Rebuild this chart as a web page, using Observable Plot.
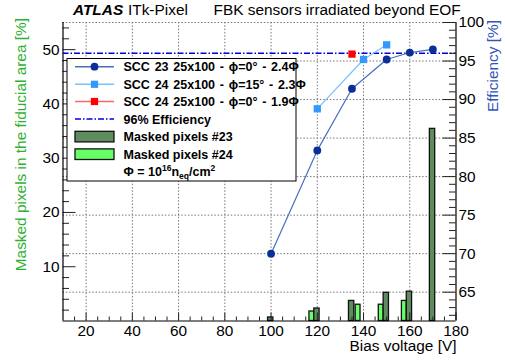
<!DOCTYPE html>
<html><head><meta charset="utf-8">
<script src="https://cdn.jsdelivr.net/npm/d3@7"></script>
<script src="https://cdn.jsdelivr.net/npm/@observablehq/plot@0.6"></script>
<style>
body{margin:0;background:#fff;}
#wrap{position:relative;width:505px;height:361px;font-family:"Liberation Sans",Arial,Helvetica,sans-serif;}
#wrap svg{position:absolute;left:0;top:0;}
</style></head><body><div id="wrap"></div>
<script>
// ---- data ----
const scc23Voltage = [100, 120, 135, 150, 160, 170];
const scc23Eff = [70.0, 83.4, 91.4, 95.2, 96.1, 96.5];
const scc24aVoltage = [120, 140, 150];
const scc24aEff = [88.8, 95.2, 97.1];
const scc24bVoltage = [135];
const scc24bEff = [95.9];
const effReference = [96];
const masked23Voltage = [100, 120, 135, 150, 160, 170];
const masked23 = [0.65, 2.3, 3.7, 5.2, 5.4, 35.4];
const masked24Voltage = [120, 140, 150, 160];
const masked24 = [1.75, 3.0, 3.0, 3.7];
const xTicks = [20, 40, 60, 80, 100, 120, 140, 160, 180];
const leftTicks = [10, 20, 30, 40, 50];
const rightTicks = [65, 70, 75, 80, 85, 90, 95, 100];
const legendLabels = ["SCC 23 25x100 - \u03D5=0\u00B0 - 2.4\u03A6", "SCC 24 25x100 - \u03D5=15\u00B0 - 2.3\u03A6", "SCC 24 25x100 - \u03D5=0\u00B0 - 1.9\u03A6", "96% Efficiency", "Masked pixels #23", "Masked pixels #24"];

// ---- styles ----
const C23 = "#0a2f96", C23line = "#4a6fc0";
const C24a = "#3399ff", C24aline = "#7cc0ff";
const C24b = "#ff0000", C24bline = "#ff6666";
const CRef = "#0000dd";
const G23 = "#5e8c5e", G24 = "#66ff66";
const FONT = '"Liberation Sans", Arial, Helvetica, sans-serif';
const FS = 15.4;
const W = 505, H = 361;
const M = {marginLeft: 62.5, marginRight: 49.5, marginTop: 22, marginBottom: 40.5};
const xDom = [10, 180], leftDom = [0, 55], rightDom = [61.26, 100];
const pxPerV = (W - M.marginLeft - M.marginRight) / (xDom[1] - xDom[0]);
const plotH = H - M.marginTop - M.marginBottom;
const pxPerL = plotH / (leftDom[1] - leftDom[0]);
const baseStyle = {fontSize: FS + "px", fontFamily: FONT, color: "black", background: "transparent", overflow: "visible"};
const grid = {stroke: "#777", strokeDasharray: "1.5,1.8", strokeWidth: 1};

const zip = (a, b) => a.map((v, i) => ({v, y: b[i]}));
const range = (a, b, s) => d3.range(a, b + 1e-9, s);

const wrap = document.getElementById("wrap");

// layer 1: grid (efficiency scale)
wrap.appendChild(Plot.plot({
  width: W, height: H, ...M, style: {...baseStyle, background: "white"},
  x: {domain: xDom, axis: null}, y: {domain: rightDom, axis: null},
  marks: [
    Plot.ruleX(xTicks.filter(d => d < 180), grid),
    Plot.ruleY(rightTicks, grid)
  ]
}));

// layer 2: masked pixels bars, left axis, x axis
const minorLeft = range(2, 54, 2).filter(d => d % 10 !== 0);
const minorX = range(15, 175, 5).filter(d => d % 20 !== 0);
wrap.appendChild(Plot.plot({
  width: W, height: H, ...M, style: baseStyle,
  x: {domain: xDom}, y: {domain: leftDom},
  marks: [
    Plot.rect(zip(masked24Voltage, masked24), {x1: d => d.v - 3.4, x2: d => d.v - 1.3, y1: 0, y2: "y", fill: G24, stroke: "#111", strokeWidth: 1.3}),
    Plot.rect(zip(masked23Voltage, masked23), {x1: d => d.v - 1.3, x2: d => d.v + 1.0, y1: 0, y2: "y", fill: G23, stroke: "#111", strokeWidth: 1.3}),
    Plot.ruleY(leftTicks, {x1: xDom[0], x2: xDom[0] + 13 / pxPerV, stroke: "#222"}),
    Plot.ruleY(minorLeft, {x1: xDom[0], x2: xDom[0] + 6.5 / pxPerV, stroke: "#222"}),
    Plot.ruleX(xTicks, {y1: 0, y2: 8 / pxPerL, stroke: "#222"}),
    Plot.ruleX(minorX, {y1: 0, y2: 4 / pxPerL, stroke: "#222"}),
    Plot.ruleX([xDom[0]], {stroke: "black", strokeWidth: 1.2}),
    Plot.ruleY([0], {stroke: "black", strokeWidth: 1.2}),
    Plot.axisY(leftTicks, {anchor: "left", tickSize: 0, tickPadding: 3.5, label: null, fill: "black"}),
    Plot.axisX(xTicks, {anchor: "bottom", tickSize: 0, tickPadding: 4.5, label: null, fill: "black"})
  ]
}));

// layer 3: efficiency curves, right axis
const minorRight = range(62, 99, 1).filter(d => d % 5 !== 0);
wrap.appendChild(Plot.plot({
  width: W, height: H, ...M, style: baseStyle,
  x: {domain: xDom, axis: null}, y: {domain: rightDom},
  marks: [
    Plot.ruleY(effReference, {stroke: CRef, strokeWidth: 1.5, strokeDasharray: "6,2,1.5,2"}),
    Plot.line(zip(scc24aVoltage, scc24aEff), {x: "v", y: "y", stroke: C24aline, strokeWidth: 1.2}),
    Plot.line(zip(scc23Voltage, scc23Eff), {x: "v", y: "y", stroke: C23line, strokeWidth: 1.2}),
    Plot.dot(zip(scc23Voltage, scc23Eff), {x: "v", y: "y", r: 3.9, fill: C23, stroke: "none"}),
    Plot.dot(zip(scc24aVoltage, scc24aEff), {x: "v", y: "y", r: 4.1, symbol: "square", fill: C24a, stroke: "none"}),
    Plot.dot(zip(scc24bVoltage, scc24bEff), {x: "v", y: "y", r: 4.1, symbol: "square", fill: C24b, stroke: "none"}),
    Plot.ruleY(rightTicks, {x1: xDom[1] - 13 / pxPerV, x2: xDom[1], stroke: "#222"}),
    Plot.ruleY(minorRight, {x1: xDom[1] - 6.5 / pxPerV, x2: xDom[1], stroke: "#222"}),
    Plot.ruleX([xDom[1]], {stroke: "black", strokeWidth: 1.2}),
    Plot.axisY(rightTicks, {anchor: "right", tickSize: 0, tickPadding: 2.5, label: null, fill: "black"})
  ]
}));

// layer 4: titles, axis titles, legend
const svg = d3.select(wrap).append("svg").attr("width", W).attr("height", H)
  .style("font-family", FONT);
svg.append("text").attr("x", 73).attr("y", 14.5).attr("font-size", FS)
  .attr("font-weight", "bold").attr("font-style", "italic").text("ATLAS");
svg.append("text").attr("x", 128).attr("y", 14.5).attr("font-size", FS).text("ITk-Pixel");
svg.append("text").attr("x", 213.5).attr("y", 14.5).attr("font-size", FS).text("FBK sensors irradiated beyond EOF");
svg.append("text").attr("x", 456.5).attr("y", 351).attr("font-size", FS).attr("text-anchor", "end").text("Bias voltage [V]");
svg.append("text").attr("transform", "translate(26,18) rotate(-90)").attr("font-size", FS)
  .attr("text-anchor", "end").attr("fill", "#2fb12f").text("Masked pixels in the fiducial area [%]");
svg.append("text").attr("transform", "translate(497.5,20) rotate(-90)").attr("font-size", FS)
  .attr("text-anchor", "end").attr("fill", "#3355bb").text("Efficiency [%]");

const lg = svg.append("g");
lg.append("rect").attr("x", 67).attr("y", 58.5).attr("width", 229).attr("height", 122.5)
  .attr("fill", "white").attr("stroke", "black").attr("stroke-width", 1);
const rowY = [66.7, 84.3, 101.5, 119, 136.6, 154.2, 171.8];
const sx1 = 75, sx2 = 114, smid = 94.5, tx = 123.5;
const lineRows = [[C23line, C23, "circle"], [C24aline, C24a, "square"], [C24bline, C24b, "square"]];
lineRows.forEach(([lc, mc, sym], i) => {
  lg.append("line").attr("x1", sx1).attr("x2", sx2).attr("y1", rowY[i]).attr("y2", rowY[i]).attr("stroke", lc).attr("stroke-width", 1.5);
  if (sym === "circle") lg.append("circle").attr("cx", smid).attr("cy", rowY[i]).attr("r", 3.9).attr("fill", mc);
  else lg.append("rect").attr("x", smid - 3.6).attr("y", rowY[i] - 3.6).attr("width", 7.2).attr("height", 7.2).attr("fill", mc);
});
lg.append("line").attr("x1", sx1).attr("x2", sx2).attr("y1", rowY[3]).attr("y2", rowY[3]).attr("stroke", CRef).attr("stroke-width", 1.5).attr("stroke-dasharray", "6,2,1.5,2");
[G23, G24].forEach((c, i) => {
  lg.append("rect").attr("x", sx1).attr("y", rowY[4 + i] - 5.3).attr("width", sx2 - sx1).attr("height", 10.6)
    .attr("fill", c).attr("stroke", "#111").attr("stroke-width", 1.3);
});
legendLabels.forEach((t, i) => {
  const el = lg.append("text").attr("x", tx).attr("y", rowY[i]).attr("dy", "0.36em").attr("font-size", 12.5).attr("font-weight", "bold").text(t);
  if (i < 3) el.attr("word-spacing", "1.3px");
});
const ft = lg.append("text").attr("x", tx).attr("y", rowY[6] + 4.5).attr("font-size", 12.5).attr("font-weight", "bold");
ft.append("tspan").text("\u03A6 = 10");
ft.append("tspan").attr("font-size", 8.5).attr("dy", -5.5).text("16");
ft.append("tspan").attr("dy", 5.5).text("n");
ft.append("tspan").attr("font-size", 8.5).attr("dy", 3).text("eq");
ft.append("tspan").attr("dy", -3).text("/cm");
ft.append("tspan").attr("font-size", 8.5).attr("dy", -5.5).text("2");
</script></body></html>
